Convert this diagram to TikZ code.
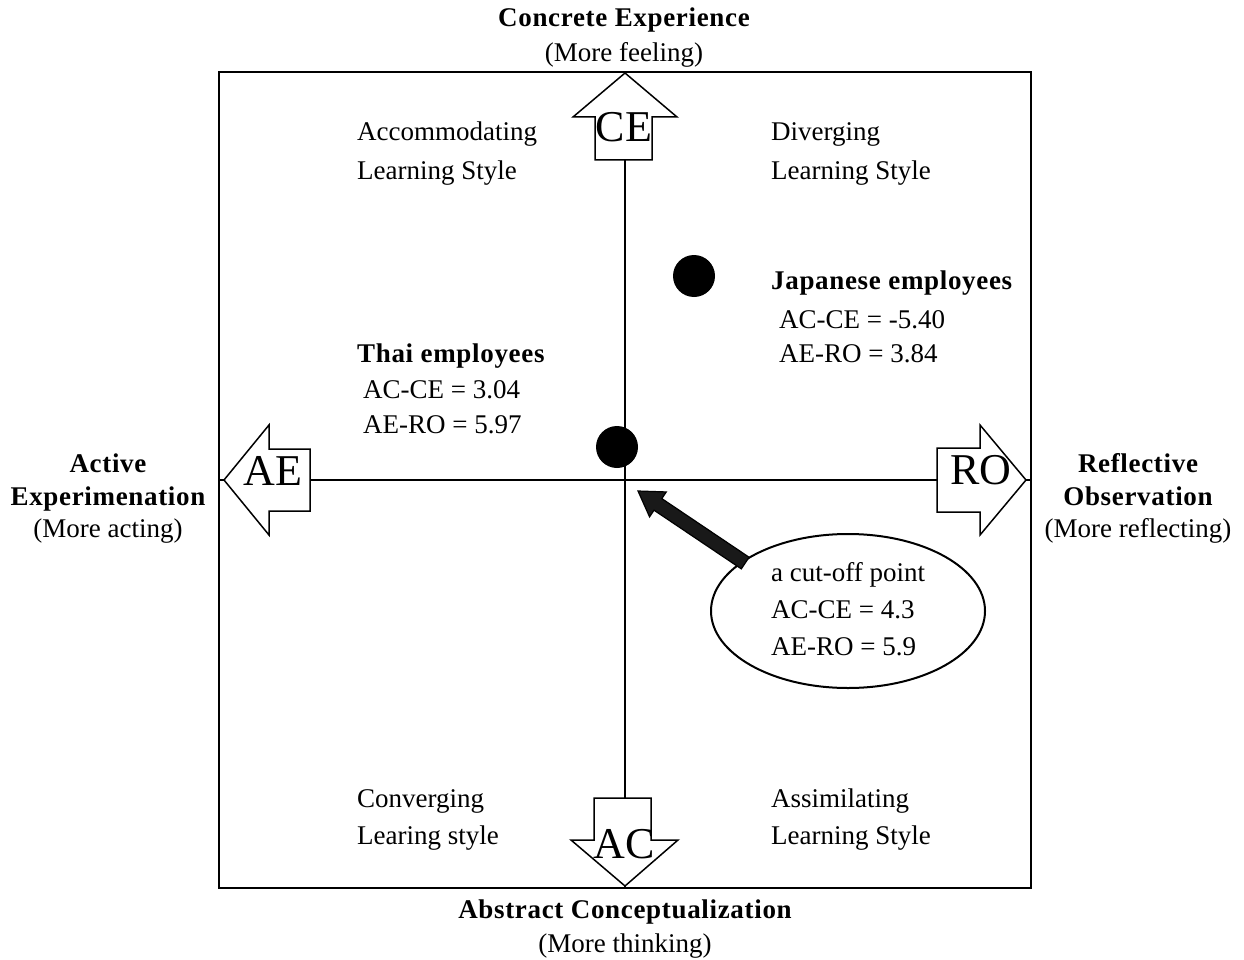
\documentclass[tikz,border=0pt]{standalone}
\usepackage{fontspec}
\setmainfont{Liberation Serif}[BoldFeatures={LetterSpace=2.5}]
\usetikzlibrary{calc,shapes.geometric}
\begin{document}
\begin{tikzpicture}[x=1pt,y=-1pt,
  lbl/.style={inner sep=0pt, anchor=base west, font=\fontsize{27}{30}\selectfont},
  blbl/.style={lbl, font=\fontsize{27}{30}\selectfont\bfseries},
  clbl/.style={inner sep=0pt, anchor=base, font=\fontsize{27}{30}\selectfont},
  cblbl/.style={clbl, font=\fontsize{27}{30}\selectfont\bfseries},
  big/.style={inner sep=0pt, font=\fontsize{44}{50}\selectfont},
  blockarrow/.style={draw=black, fill=white, line width=1.5pt, line join=miter},
  axis/.style={draw=black, line width=1.8pt},
  dot/.style={circle, fill=black, inner sep=0pt, minimum size=42pt},
  fatarrow/.style={draw=black, fill=black!90, line width=1.2pt, line join=miter}]
\useasboundingbox (0,0) rectangle (1244,960);
% frame
\draw[line width=2pt] (219,72) rectangle (1031,888);
% axes
\coordinate (ctop) at (625,72);
\coordinate (cbot) at (625,888);
\coordinate (cleft) at (219,480);
\coordinate (cright) at (1031,480);
\draw[axis] (ctop) -- (cbot);
\draw[axis] (cleft) -- (cright);
% block arrows
\draw[blockarrow] (595,160) -- (595,117) -- (573,117) -- (625,73) -- (677,117) -- (652,117) -- (652,160) -- cycle;
\node[big] (ce) at (624,127) {CE};
\draw[blockarrow] (224,480) -- (269,425) -- (269,449) -- (310,449) -- (310,511) -- (269,511) -- (269,535) -- cycle;
\node[big] (ae) at (273,471) {AE};
\draw[blockarrow] (937,448) -- (980,448) -- (980,425) -- (1026,480) -- (980,535) -- (980,512) -- (937,512) -- cycle;
\node[big] (ro) at (981,470) {RO};
\draw[blockarrow] (594,798) -- (651,798) -- (651,840) -- (678,840) -- (625,886) -- (571,840) -- (594,840) -- cycle;
\node[big] (ac) at (624,844) {AC};
% outer labels
\node[cblbl] (cetitle) at (624,27) {Concrete Experience};
\node[clbl] (cesub) at (624,62) {(More feeling)};
\node[cblbl] (actitle) at (625,918) {Abstract Conceptualization};
\node[clbl] (acsub) at (625,952) {(More thinking)};
\node[cblbl] (aet1) at (108,472) {Active};
\node[cblbl] (aet2) at (108,505) {Experimenation};
\node[clbl] (aesub) at (108,537) {(More acting)};
\node[cblbl] (rot1) at (1138,472) {Reflective};
\node[cblbl] (rot2) at (1138,505) {Observation};
\node[clbl] (rosub) at (1138,537) {(More reflecting)};
% quadrant labels
\node[lbl] (acc1) at (357,141) {Accommodating};
\node[lbl] (acc2) at (357,180) {Learning Style};
\node[lbl] (div1) at (771,141) {Diverging};
\node[lbl] (div2) at (771,180) {Learning Style};
\node[lbl] (con1) at (357,807) {Converging};
\node[lbl] (con2) at (357,844) {Learing style};
\node[lbl] (ass1) at (771,807) {Assimilating};
\node[lbl] (ass2) at (771,844) {Learning Style};
% data points
\node[dot] (jp) at (694,276) {};
\node[dot] (thai) at (617,447) {};
\node[blbl] (jpt) at (771,289) {Japanese employees};
\node[lbl] (jp1) at (779,328) {AC-CE = -5.40};
\node[lbl] (jp2) at (779,362) {AE-RO = 3.84};
\node[blbl] (tht) at (357,362) {Thai employees};
\node[lbl] (th1) at (363,398) {AC-CE = 3.04};
\node[lbl] (th2) at (363,433) {AE-RO = 5.97};
% cut-off ellipse
\node[ellipse, draw=black, line width=2pt, minimum width=274pt, minimum height=154pt, inner sep=0pt] (cut) at (848,611) {};
\node[lbl] (cut1) at (771,581) {a cut-off point};
\node[lbl] (cut2) at (771,618) {AC-CE = 4.3};
\node[lbl] (cut3) at (771,655) {AE-RO = 5.9};
% fat arrow
\coordinate (tip) at (638,491);
\coordinate (tail) at ($(cut.155)!4pt!(cut.center)$);
\coordinate (hb) at ($(tip)!24pt!(tail)$);
\draw[fatarrow] (tip) -- ($(hb)!15pt!90:(tip)$) -- ($(hb)!7pt!90:(tip)$) -- ($(tail)!7pt!90:(tip)$) -- ($(tail)!7pt!-90:(tip)$) -- ($(hb)!7pt!-90:(tip)$) -- ($(hb)!15pt!-90:(tip)$) -- cycle;
\end{tikzpicture}
\end{document}
